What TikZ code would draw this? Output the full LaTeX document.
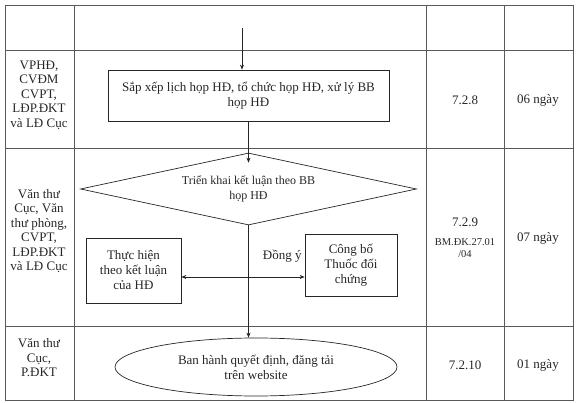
\documentclass[tikz,border=0pt]{standalone}
\usepackage{fontspec}
\setmainfont{Liberation Serif}
\usetikzlibrary{arrows.meta, positioning, shapes.geometric}
\newcommand{\formfont}{\fontsize{10.5}{12}\selectfont}

\begin{document}
\begin{tikzpicture}[
  x=1pt, y=-1pt,
  font=\fontsize{13}{15}\selectfont,
  every node/.style={align=center, text=black!85},
  grid/.style={draw=black!65, line width=0.6pt},
  stepbox/.style={draw=black!85, line width=0.7pt, inner sep=2pt},
  arrow/.style={-{Stealth[length=5pt, width=4pt]}, draw=black!85, line width=0.7pt},
  ]

  \useasboundingbox (0,0) rectangle (576,403);

  % Table frame
  \draw[grid] (5,5) rectangle (573,400);
  \draw[grid] (74,5) -- (74,400);
  \draw[grid] (426,5) -- (426,400);
  \draw[grid] (504,5) -- (504,400);
  \draw[grid] (5,50) -- (573,50);
  \draw[grid] (5,148) -- (573,148);
  \draw[grid] (5,326) -- (573,326);

  % Responsible units
  \node[font=\fontsize{13}{14.5}\selectfont] (unitA) at (39,95) {VPHĐ,\\CVĐM\\CVPT,\\LĐP.ĐKT\\và LĐ Cục};
  \node[font=\fontsize{13}{14.5}\selectfont] (unitB) at (39,231) {Văn thư\\Cục, Văn\\thư phòng,\\CVPT,\\LĐP.ĐKT\\và LĐ Cục};
  \node[font=\fontsize{13}{14.5}\selectfont] (unitC) at (39,358) {Văn thư\\Cục,\\P.ĐKT};

  % Steps
  \node[stepbox, minimum width=281pt, minimum height=51pt] (arrange) at (248.5,95.5)
    {Sắp xếp lịch họp HĐ, tổ chức họp HĐ, xử lý BB\\họp HĐ};
  \node[stepbox, diamond, aspect=4.6, inner sep=0pt, minimum width=336pt, minimum height=72pt,
    font=\fontsize{12}{15}\selectfont] (deploy) at (248.5,189)
    {Triển khai kết luận theo BB\\họp HĐ};
  \node[stepbox, minimum width=95pt, minimum height=65pt] (apply) at (133.5,270.5)
    {Thực hiện\\theo kết luận\\của HĐ};
  \node[stepbox, minimum width=92pt, minimum height=62pt] (announce) at (351,265)
    {Công bố\\Thuốc đối\\chứng};
  \node[stepbox, ellipse, minimum width=282pt, minimum height=58pt] (issue) at (256,367)
    {Ban hành quyết định, đăng tải\\trên website};

  % Codes and durations
  \node (codeA) at (465,100) {7.2.8};
  \node (timeA) at (538,100) {06 ngày};
  \node (codeB) at (465,238) {7.2.9\\[4pt]\formfont BM.ĐK.27.01\\[-3pt]\formfont /04};
  \node (timeB) at (538,238) {07 ngày};
  \node (codeC) at (465,365) {7.2.10};
  \node (timeC) at (538,365) {01 ngày};

  % Arrows
  \coordinate (entry) at (242,28);
  \draw[arrow] (entry) -- (entry |- arrange.north);
  \draw[arrow] (arrange.south) -- ([yshift=-10pt]deploy.north);
  \draw[arrow] (deploy.south) -- (deploy.south |- issue.north);
  \coordinate (fork) at (deploy.south |- 0,277);
  \draw[arrow] (fork) -- (fork -| apply.east);
  \draw[arrow] (fork) -- node[pos=0.6, above=11pt] {Đồng ý} (fork -| announce.west);

\end{tikzpicture}
\end{document}
